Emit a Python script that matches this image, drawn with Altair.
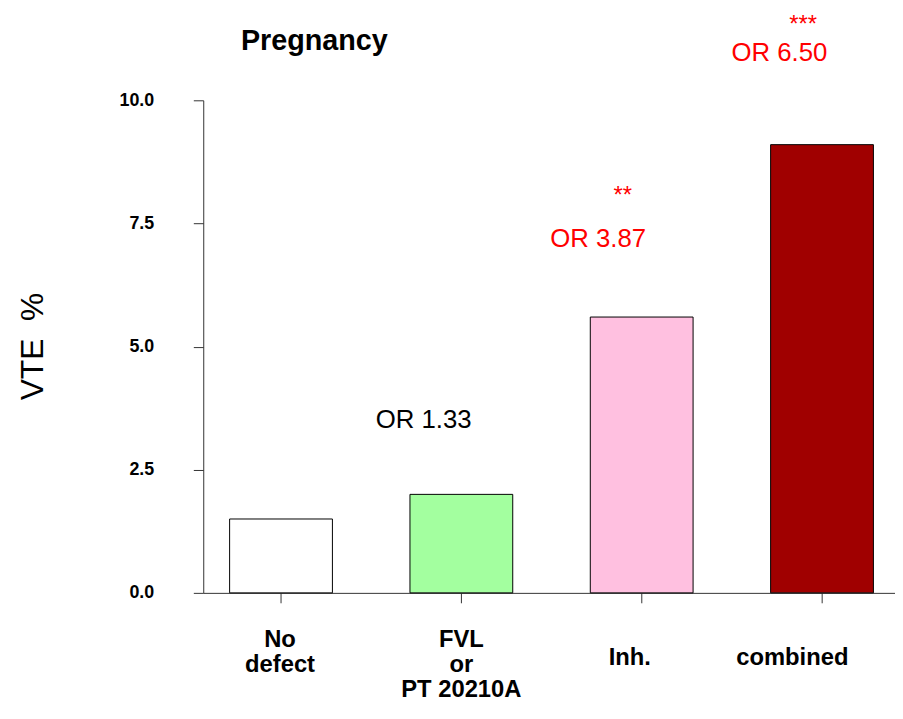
import altair as alt
import pandas as pd

# ---- data ----
categories = ["No defect", "FVL or PT 20210A", "Inh.", "combined"]
label_lines = [["No", "defect"], ["FVL", "or", "PT 20210A"], ["Inh."], ["combined"]]
vte_pct = [1.5, 2.0, 5.6, 9.1]
odds_ratio = [None, 1.33, 3.87, 6.50]
significance = ["", "", "**", "***"]
bar_colors = ["#ffffff", "#a3ff9f", "#ffc0e0", "#a00000"]
y_ticks = [0, 2.5, 5, 7.5, 10]
chart_title = "Pregnancy"

df = pd.DataFrame({
    "category": categories,
    "vte": vte_pct,
    "or": odds_ratio,
    "sig": significance,
    "lines": label_lines,
})

FONT = "Liberation Sans"
AXIS_COLOR = "#333333"

x_scale = alt.Scale(paddingInner=0.43, paddingOuter=0.133, align=0.55)
y_scale = alt.Scale(domain=[0, 10], nice=False, zero=True)

x_enc = alt.X(
    "category:N",
    sort=categories,
    scale=x_scale,
    axis=alt.Axis(labels=False, title=None, tickSize=10, ticks=True,
                  domainColor=AXIS_COLOR, tickColor=AXIS_COLOR, grid=False),
)
x_plain = alt.X("category:N", sort=categories)
y_plain = alt.Y("vte:Q", scale=y_scale)

base = alt.Chart(df)

bars = base.mark_bar(stroke="black", strokeWidth=1).encode(
    x=x_enc,
    y=alt.Y(
        "vte:Q",
        scale=y_scale,
        axis=alt.Axis(
            values=y_ticks, format=".1f", grid=False,
            labelFont=FONT, labelFontWeight="bold", labelFontSize=18,
            labelColor="black", labelPadding=40, tickSize=10,
            domainColor=AXIS_COLOR, tickColor=AXIS_COLOR,
            title="VTE\u00a0\u00a0%", titleFont=FONT, titleFontSize=32,
            titleFontWeight="normal", titleColor="black",
            titleX=-162, titleY=248, titleAngle=270,
            titleBaseline="alphabetic", titleAlign="center",
        ),
    ),
    color=alt.Color("category:N", scale=alt.Scale(domain=categories, range=bar_colors), legend=None),
)

title_mark = alt.Chart(pd.DataFrame({"t": [chart_title]})).mark_text(
    font=FONT, fontWeight="bold", fontSize=29, color="black",
    align="left", baseline="alphabetic",
).encode(x=alt.value(38), y=alt.value(-51), text="t:N")


def x_label(cat, y, dx):
    return base.transform_filter(alt.datum.category == cat).mark_text(
        font=FONT, fontWeight="bold", fontSize=24, color="black",
        baseline="alphabetic", align="center", lineHeight=25, y=y, dx=dx,
    ).encode(x=x_plain, text="lines")


def annotation(cat, expr, dy, dx, color, size, baseline="alphabetic"):
    return base.transform_filter(alt.datum.category == cat).transform_calculate(
        txt=expr
    ).mark_text(
        font=FONT, fontSize=size, color=color, baseline=baseline,
        align="center", dx=dx, dy=dy,
    ).encode(x=x_plain, y=y_plain, text="txt:N")


or_expr = "'OR ' + format(datum.or, '.2f')"

layers = [
    bars,
    title_mark,
    x_label(categories[0], 552, -1),
    x_label(categories[1], 552, 0),
    x_label(categories[2], 570, -12),
    x_label(categories[3], 570, -30),
    annotation(categories[1], or_expr, -67, -38, "black", 26),
    annotation(categories[2], or_expr, -71, -44, "red", 26),
    annotation(categories[2], "datum.sig", -134, -19, "red", 24, "top"),
    annotation(categories[3], or_expr, -84, -43, "red", 26),
    annotation(categories[3], "datum.sig", -133, -19, "red", 24, "top"),
]

chart = alt.layer(*layers).properties(
    width=698,
    height=497,
    background="white",
    autosize=alt.AutoSizeParams(type="none"),
    padding={"left": 197, "top": 90, "right": 0, "bottom": 111},
).configure_view(strokeWidth=0, stroke=None)

chart.save("out.html", embed_options={"renderer": "svg", "actions": False})
